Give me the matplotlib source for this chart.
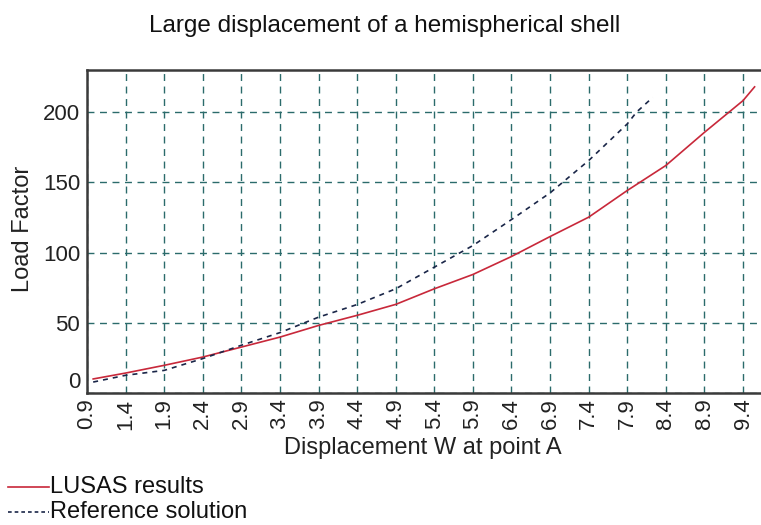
import matplotlib
matplotlib.use("Agg")
import matplotlib.pyplot as plt
from matplotlib.lines import Line2D

# Load-displacement response of a hemispherical shell
lusas_w = [0.98, 1.4, 1.9, 2.4, 2.9, 3.4, 3.9, 4.4, 4.9, 5.4, 5.9, 6.4,
           6.9, 7.4, 7.9, 8.4, 8.9, 9.4, 9.55]
lusas_load = [10.0, 14.2, 19.7, 25.6, 32.7, 39.8, 48.1, 55.3, 63.1, 74.2,
              84.4, 97.2, 111.4, 125.2, 144.2, 162.0, 185.6, 208.2, 218.0]

ref_w = [0.98, 1.4, 1.9, 2.4, 2.9, 3.4, 3.9, 4.4, 4.9, 5.4, 5.9, 6.4,
         6.9, 7.4, 7.9, 8.02, 8.23]
ref_load = [7.8, 12.6, 16.1, 24.5, 34.0, 43.0, 54.0, 63.0, 74.2, 89.6,
            105.0, 123.5, 142.5, 165.5, 191.6, 200.0, 210.5]

x_ticks = [0.9, 1.4, 1.9, 2.4, 2.9, 3.4, 3.9, 4.4, 4.9, 5.4, 5.9, 6.4,
           6.9, 7.4, 7.9, 8.4, 8.9, 9.4]
x_tick_labels = ["0.9", "1.4", "1.9", "2.4", "2.9", "3.4", "3.9", "4.4",
                 "4.9", "5.4", "5.9", "6.4", "6.9", "7.4", "7.9", "8.4",
                 "8.9", "9.4"]
y_ticks = [0, 50, 100, 150, 200]

series_names = ["LUSAS results", "Reference solution"]
lusas_color = "#c8283a"
ref_color = "#1a2648"

plt.rcParams["font.family"] = ["Liberation Sans", "DejaVu Sans"]

W, H = 761, 525
fig = plt.figure(figsize=(W / 100, H / 100), dpi=100)
ax = fig.add_axes([87 / W, 1 - 393 / H, 673 / W, 323 / H])

ax.plot(lusas_w, lusas_load, color=lusas_color, lw=1.2, zorder=3)
ax.plot(ref_w, ref_load, color=ref_color, lw=1.2, ls=(0, (3, 3)), zorder=3)

ax.set_xlim(0.9, 9.62)
ax.set_ylim(0, 230)
ax.set_xticks(x_ticks)
ax.set_xticklabels(x_tick_labels, rotation=90, fontsize=16)
ax.set_yticks(y_ticks)
ax.set_yticklabels([str(v) for v in y_ticks], fontsize=16)
ax.tick_params(length=0, colors="#222222")
ax.tick_params(axis="y", pad=5)
ax.tick_params(axis="x", pad=4)
# the zero label sits just above the corner so it clears the first x label
ax.get_yticklabels()[0].set_verticalalignment("bottom")

ax.grid(True, color="#2b6b6b", lw=1.0, ls=(0, (5, 4)))
ax.set_axisbelow(True)

for side in ("top", "left", "bottom"):
    ax.spines[side].set_color("#3a3a3a")
    ax.spines[side].set_linewidth(1.8)
ax.spines["right"].set_visible(False)

# Axis titles and chart title
fig.text(423 / W, 1 - 448 / H, "Displacement W at point A",
         ha="center", va="center", fontsize=17, color="#222222")
fig.text(23 / W, 1 - 229 / H, "Load Factor", rotation=90,
         ha="center", va="center", fontsize=17, color="#222222")
fig.text(385 / W, 1 - 26 / H, "Large displacement of a hemispherical shell",
         ha="center", va="center", fontsize=17.5, color="#111111")

# Legend below the plot
legend_rows = [(487, lusas_color, "-"), (512, ref_color, (0, (2.2, 1.8)))]
for (y, color, style), name in zip(legend_rows, series_names):
    fig.add_artist(Line2D([8 / W, 49 / W], [1 - y / H, 1 - y / H],
                          transform=fig.transFigure, color=color,
                          lw=1.2, ls=style))
    fig.text(50 / W, 1 - y / H, name, ha="left", va="center",
             fontsize=17, color="#111111")

fig.savefig("out.png", dpi=100)
